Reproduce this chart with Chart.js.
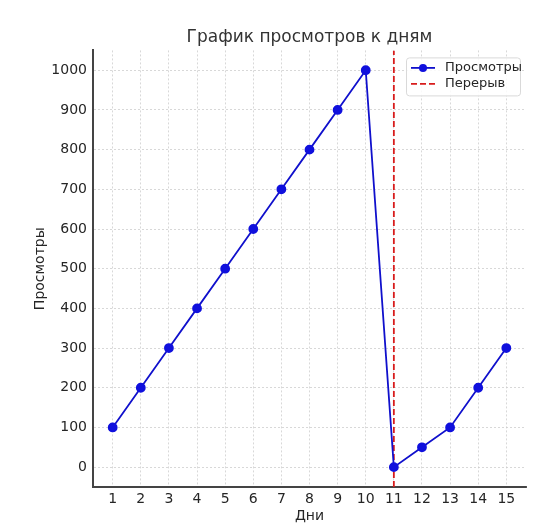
<!DOCTYPE html>
<html>
<head>
<meta charset="utf-8">
<script src="https://cdn.jsdelivr.net/npm/chart.js@4.4.1/dist/chart.umd.min.js"></script>
<style>
html,body{margin:0;padding:0;background:#fff;}
#wrap{width:542px;height:528px;}
</style>
</head>
<body>
<div id="wrap"><canvas id="c" width="542" height="528"></canvas></div>
<script>
const days = [1,2,3,4,5,6,7,8,9,10,11,12,13,14,15];
const views = [100,200,300,400,500,600,700,800,900,1000,0,50,100,200,300];
const breakDay = 11;
const xTicks = [1,2,3,4,5,6,7,8,9,10,11,12,13,14,15];
const yTicks = [0,100,200,300,400,500,600,700,800,900,1000];
const xRange = [0.3, 15.7];
const yRange = [-50, 1050];
const seriesLabel = 'Просмотры';
const breakLabel = 'Перерыв';
const titleText = 'График просмотров к дням';
const xTitle = 'Дни';
const yTitle = 'Просмотры';

const FONT = "'DejaVu Sans', sans-serif";
const TXT = '#262626';

const legendPlugin = {
  id: 'innerLegend',
  afterDatasetsDraw(chart) {
    const ctx = chart.ctx;
    const area = chart.chartArea;
    const x0 = area.right - 120, y0 = area.top + 7, w = 114, h = 38;
    ctx.save();
    ctx.fillStyle = 'rgba(255,255,255,0.85)';
    ctx.strokeStyle = '#d9d9d9';
    ctx.lineWidth = 1;
    ctx.beginPath();
    ctx.roundRect(x0 + 0.5, y0 + 0.5, w, h, 3);
    ctx.fill();
    ctx.stroke();
    chart.data.datasets.forEach((ds, i) => {
      const cy = y0 + 10.5 + i * 16;
      const lx = x0 + 5;
      ctx.strokeStyle = ds.borderColor;
      ctx.lineWidth = ds.borderWidth;
      ctx.setLineDash(ds.borderDash || []);
      ctx.beginPath();
      ctx.moveTo(lx, cy);
      ctx.lineTo(lx + 24, cy);
      ctx.stroke();
      ctx.setLineDash([]);
      if (ds.pointRadius > 0) {
        ctx.fillStyle = ds.pointBackgroundColor;
        ctx.beginPath();
        ctx.arc(lx + 12, cy, ds.pointRadius, 0, Math.PI * 2);
        ctx.fill();
      }
      ctx.fillStyle = TXT;
      ctx.font = "13px " + FONT;
      ctx.textBaseline = 'middle';
      ctx.textAlign = 'left';
      ctx.fillText(ds.label, lx + 34, cy);
    });
    ctx.restore();
  }
};

const gridCfg = {
  color: '#cfcfcf',
  lineWidth: 0.8,
  drawTicks: false
};

new Chart(document.getElementById('c'), {
  type: 'line',
  data: {
    datasets: [
      {
        label: seriesLabel,
        data: days.map((d, i) => ({x: d, y: views[i]})),
        borderColor: '#1010cc',
        backgroundColor: '#1010cc',
        pointBackgroundColor: '#1010dd',
        pointBorderColor: '#1010dd',
        borderWidth: 1.8,
        pointRadius: 4,
        pointHoverRadius: 4,
        tension: 0,
        fill: false
      },
      {
        label: breakLabel,
        data: [{x: breakDay, y: yRange[0]}, {x: breakDay, y: yRange[1]}],
        borderColor: '#d81c1c',
        backgroundColor: '#d81c1c',
        pointBackgroundColor: '#d81c1c',
        borderWidth: 1.8,
        borderDash: [6, 3],
        pointRadius: 0,
        pointHoverRadius: 0,
        fill: false
      }
    ]
  },
  options: {
    responsive: false,
    animation: false,
    devicePixelRatio: 1,
    layout: { padding: { left: 0, right: 16, top: 0, bottom: 0 } },
    plugins: {
      legend: { display: false },
      tooltip: { enabled: false },
      title: {
        display: true,
        fullSize: false,
        text: titleText,
        color: '#333',
        font: { family: FONT, size: 17, weight: 'normal' },
        padding: { top: 27, bottom: 3 }
      }
    },
    scales: {
      x: {
        type: 'linear',
        min: xRange[0],
        max: xRange[1],
        afterBuildTicks(s) { s.ticks = xTicks.map(v => ({value: v})); },
        afterFit(s) { s.height = 41; },
        grid: Object.assign({}, gridCfg),
        border: { display: true, color: '#444', width: 2, dash: [2,2] },
        ticks: { color: TXT, font: { family: FONT, size: 14 }, padding: 4, autoSkip: false, maxRotation: 0,
                 callback: v => String(v) },
        title: { display: true, text: xTitle, color: TXT, font: { family: FONT, size: 14 }, padding: { top: 0, bottom: 3 } }
      },
      y: {
        type: 'linear',
        min: yRange[0],
        max: yRange[1],
        afterBuildTicks(s) { s.ticks = yTicks.map(v => ({value: v})); },
        afterFit(s) { s.width = 93; },
        grid: Object.assign({}, gridCfg),
        border: { display: true, color: '#444', width: 2, dash: [2,2] },
        ticks: { color: TXT, font: { family: FONT, size: 14 }, padding: 6, callback: v => String(v) },
        title: { display: true, text: yTitle, color: TXT, font: { family: FONT, size: 14 }, padding: { top: 32, bottom: 0 } }
      }
    }
  },
  plugins: [legendPlugin]
});
</script>
</body>
</html>
